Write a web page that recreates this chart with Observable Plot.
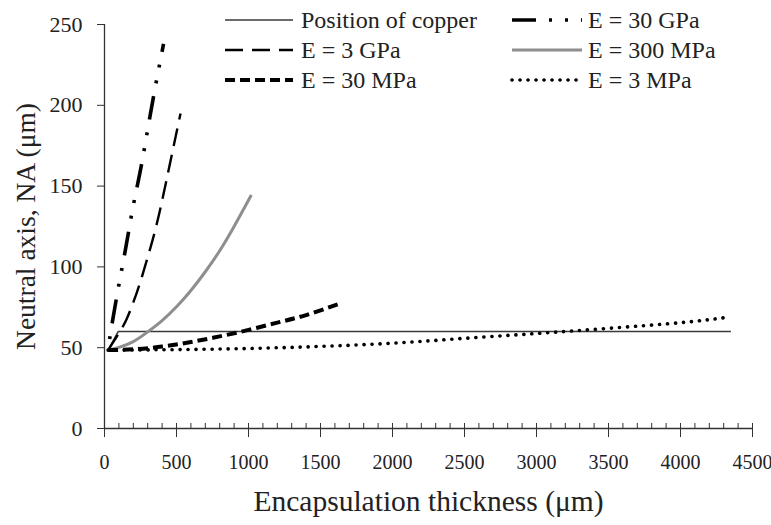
<!DOCTYPE html>
<html>
<head>
<meta charset="utf-8">
<script src="https://cdn.jsdelivr.net/npm/d3@7"></script>
<script src="https://cdn.jsdelivr.net/npm/@observablehq/plot@0.6"></script>
<style>
  html, body { margin: 0; padding: 0; background: #fff; }
  #chart { width: 771px; height: 525px; }
</style>
</head>
<body>
<div id="chart"></div>
<script>
// ---- Data ----
const xTicks = [0, 500, 1000, 1500, 2000, 2500, 3000, 3500, 4000, 4500];
const xMinorTicks = d3.range(0, 4501, 100);
const yTicks = [0, 50, 100, 150, 200, 250];

const copperX = [25, 95, 4350];
const copperY = [48.5, 60, 60];

const gpa30X = [25, 50, 100, 150, 200, 250, 300, 350, 410];
const gpa30Y = [49, 63.5, 89, 113, 138, 160, 185, 210, 238];

const gpa3X = [25, 100, 150, 200, 250, 300, 350, 400, 450, 528];
const gpa3Y = [48.5, 59, 67, 78, 91, 106, 122, 141, 162, 195];

const mpa300X = [25, 100, 200, 300, 400, 500, 600, 700, 800, 900, 1020];
const mpa300Y = [48.5, 50.2, 53.8, 59.8, 66.8, 75.3, 85.4, 97, 110, 125, 144.5];

const mpa30X = [25, 200, 400, 600, 800, 1000, 1200, 1400, 1640];
const mpa30Y = [48.5, 49, 50.7, 53.5, 57, 61, 65.5, 70.2, 77.5];

const mpa3X = [25, 500, 1000, 1500, 2000, 2500, 3000, 3500, 4000, 4300];
const mpa3Y = [48.5, 48.8, 49.5, 50.8, 52.8, 55.8, 58.8, 62, 65.5, 68.5];

const seriesNames = ["Position of copper", "E = 30 GPa", "E = 3 GPa", "E = 300 MPa", "E = 30 MPa", "E = 3 MPa"];
const xLabel = "Encapsulation thickness (\u03bcm)";
const yLabel = "Neutral axis, NA (\u03bcm)";

// ---- Build tables ----
const toRows = (xs, ys) => xs.map((x, i) => ({x, y: ys[i]}));
const seriesData = [
  toRows(copperX, copperY),
  toRows(gpa30X, gpa30Y).reverse(), // drawn from the top end so the dash pattern matches
  toRows(gpa3X, gpa3Y),
  toRows(mpa300X, mpa300Y),
  toRows(mpa30X, mpa30Y),
  toRows(mpa3X, mpa3Y)
];

// ---- Styles ----
const FONT = "'Liberation Serif', 'DejaVu Serif', serif";
const lineStyles = [
  {stroke: "#3a3a3a", strokeWidth: 1.6, dash: null, offset: 0, cap: "butt", curve: "linear"},
  {stroke: "#000", strokeWidth: 3.6, dash: "24,13,3,13,3,13", offset: 16, cap: "butt", curve: "natural"},
  {stroke: "#000", strokeWidth: 2.4, dash: "18,9", offset: 0, cap: "butt", curve: "natural"},
  {stroke: "#8e8e8e", strokeWidth: 3, dash: null, offset: 0, cap: "butt", curve: "natural"},
  {stroke: "#000", strokeWidth: 4, dash: "10,5", offset: 0, cap: "butt", curve: "natural"},
  {stroke: "#000", strokeWidth: 3.6, dash: "0.1,7.9", offset: 0, cap: "round", curve: "natural"}
];

const lineMarks = seriesData.map((rows, i) => Plot.line(rows, {
  x: "x", y: "y",
  stroke: lineStyles[i].stroke,
  strokeWidth: lineStyles[i].strokeWidth,
  strokeDasharray: lineStyles[i].dash,
  strokeDashoffset: lineStyles[i].offset,
  strokeLinecap: lineStyles[i].cap,
  curve: lineStyles[i].curve
}));

const chart = Plot.plot({
  width: 771,
  height: 525,
  marginLeft: 104,
  marginRight: 19,
  marginTop: 24,
  marginBottom: 97,
  style: {fontFamily: FONT, background: "#fff", color: "#222"},
  x: {domain: [0, 4500]},
  y: {domain: [0, 250]},
  marks: [
    // minor x ticks (upward from axis)
    Plot.axisX({ticks: xMinorTicks, tickSize: 5, dy: -5, tickFormat: () => "", label: null, stroke: "#333"}),
    // major x ticks and labels
    Plot.axisX({ticks: xTicks, tickSize: 14, dy: -5, tickPadding: 17, tickFormat: d => String(d), label: null, fontSize: 20, stroke: "#333", fill: "#222"}),
    Plot.axisY({ticks: yTicks, tickSize: 7, tickPadding: 15, tickFormat: d => String(d), label: null, fontSize: 22, stroke: "#333", fill: "#222"}),
    Plot.ruleY([0], {stroke: "#333", strokeWidth: 1.3}),
    Plot.ruleX([0], {stroke: "#333", strokeWidth: 1.3}),
    ...lineMarks,
    Plot.text([xLabel], {frameAnchor: "bottom", dy: 82, fontSize: 29.5, fill: "#222", text: d => d, fontFamily: FONT, textAnchor: "middle"}),
    Plot.text([yLabel], {frameAnchor: "left", dx: -78, rotate: -90, fontSize: 27.5, fill: "#222", text: d => d, fontFamily: FONT, textAnchor: "middle"})
  ]
});

document.getElementById("chart").appendChild(chart);

// ---- Legend (inside the plot area, top right) ----
const svg = d3.select(chart.tagName.toLowerCase() === "svg" ? chart : chart.querySelector("svg"));
const legendCols = [{x1: 225, x2: 293, tx: 301}, {x1: 512, x2: 582, tx: 588}];
const legendRows = [20, 50, 80];
const lg = svg.append("g").attr("class", "legend");
seriesNames.forEach((name, i) => {
  const col = legendCols[i % 2];
  const y = legendRows[Math.floor(i / 2)];
  const s = lineStyles[i];
  lg.append("line")
    .attr("x1", col.x1).attr("x2", col.x2)
    .attr("y1", y).attr("y2", y)
    .attr("stroke", s.stroke)
    .attr("stroke-width", s.strokeWidth)
    .attr("stroke-dasharray", s.dash)
    .attr("stroke-linecap", s.cap);
  lg.append("text")
    .attr("x", col.tx).attr("y", y)
    .attr("dy", "0.32em")
    .attr("text-anchor", "start")
    .attr("font-family", FONT)
    .attr("font-size", 24)
    .attr("fill", "#222")
    .text(name);
});
</script>
</body>
</html>
